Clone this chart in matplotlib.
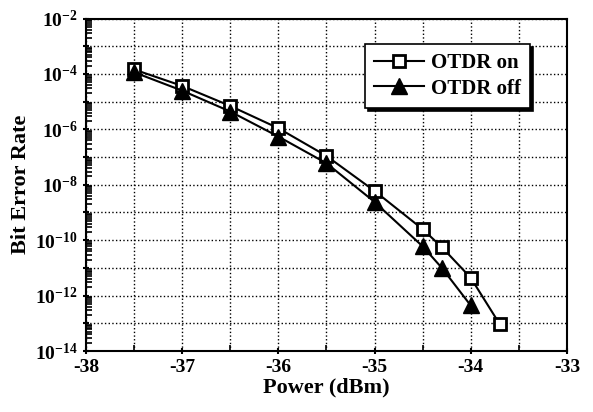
import matplotlib
matplotlib.use('Agg')
import matplotlib.pyplot as plt
import numpy as np
from matplotlib.ticker import FixedLocator, LogLocator, NullFormatter, FuncFormatter

plt.rcParams['font.family'] = 'Liberation Serif'
plt.rcParams['font.weight'] = 'bold'
plt.rcParams['mathtext.fontset'] = 'custom'
plt.rcParams['mathtext.rm'] = 'Liberation Serif:bold'
plt.rcParams['mathtext.bf'] = 'Liberation Serif:bold'
plt.rcParams['mathtext.default'] = 'bf'

# data
power_on = [-37.5, -37.0, -36.5, -36.0, -35.5, -35.0, -34.5, -34.3, -34.0, -33.7]
ber_on = [1.45e-4, 3.7e-5, 7e-6, 1.1e-6, 1.1e-7, 6e-9, 2.5e-10, 5.6e-11, 4.4e-12, 9.5e-14]
power_off = [-37.5, -37.0, -36.5, -36.0, -35.5, -35.0, -34.5, -34.3, -34.0]
ber_off = [1.15e-4, 2.5e-5, 4.4e-6, 5.5e-7, 6e-8, 2.4e-9, 6e-11, 1e-11, 4.4e-13]

fig = plt.figure(figsize=(5.93, 4.12), dpi=100)
ax = fig.add_axes([0.145, 0.148, 0.811, 0.807])

ax.plot(power_on, ber_on, '-', color='black', lw=1.5, marker='s', ms=8,
        mfc='white', mec='black', mew=2, label='OTDR on', zorder=3)
ax.plot(power_off, ber_off, '-', color='black', lw=1.5, marker='^', ms=11,
        mfc='black', mec='black', label='OTDR off', zorder=3)

ax.set_yscale('log')
ax.set_xlim(-38, -33)
ax.set_ylim(1e-14, 1e-2)

ax.xaxis.set_major_locator(FixedLocator([-38, -37, -36, -35, -34, -33]))
ax.xaxis.set_minor_locator(FixedLocator(np.arange(-37.5, -33, 1.0)))
ax.yaxis.set_major_locator(FixedLocator([10.0 ** e for e in range(-14, -1)]))
ax.yaxis.set_minor_locator(LogLocator(base=10, subs=np.arange(2, 10), numticks=30))
ax.yaxis.set_minor_formatter(NullFormatter())


def ylab(v, pos):
    e = int(round(np.log10(v)))
    if e % 2 == 0:
        return r'$\mathbf{10^{%d}}$' % e
    return ''


ax.yaxis.set_major_formatter(FuncFormatter(ylab))
ax.xaxis.set_major_formatter(FuncFormatter(lambda v, p: '%d' % v))

ax.grid(True, which='major', axis='y', color='black', ls=':', lw=1)
ax.grid(True, which='both', axis='x', color='black', ls=':', lw=1)

ax.tick_params(axis='both', which='major', labelsize=14, width=1.5, length=5, direction='inout')
ax.tick_params(axis='both', which='minor', width=1.2, length=4, direction='in')
for lab in ax.get_xticklabels() + ax.get_yticklabels():
    lab.set_fontweight('bold')

for s in ax.spines.values():
    s.set_linewidth(1.5)

ax.set_xlabel('Power (dBm)', fontsize=16, fontweight='bold', labelpad=1)
ax.set_ylabel('Bit Error Rate', fontsize=16, fontweight='bold', labelpad=3)

leg = ax.legend(loc='upper right', bbox_to_anchor=(0.945, 0.955), fontsize=15,
                frameon=True, fancybox=False, shadow={'color': 'black', 'alpha': 1},
                edgecolor='black', framealpha=1, handlelength=2.4, borderpad=0.45,
                labelspacing=0.25, handletextpad=0.3)
leg.get_frame().set_linewidth(1.2)
for t in leg.get_texts():
    t.set_fontweight('bold')

fig.savefig('out.png', dpi=100)
